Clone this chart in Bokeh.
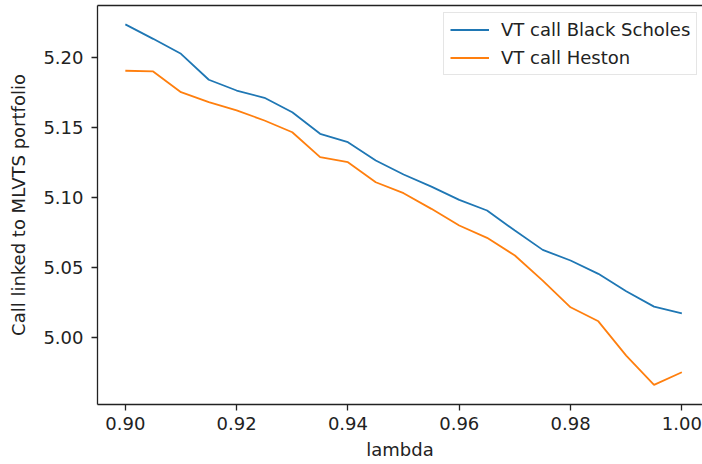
from bokeh.plotting import figure
from bokeh.models import LinearAxis, FixedTicker, NumeralTickFormatter, Range1d, Legend, LegendItem
from bokeh.embed import file_html
from bokeh.resources import INLINE

lam = [0.900, 0.905, 0.910, 0.915, 0.920, 0.925, 0.930, 0.935, 0.940, 0.945, 0.950,
       0.955, 0.960, 0.965, 0.970, 0.975, 0.980, 0.985, 0.990, 0.995, 1.000]
black_scholes = [5.2234, 5.2131, 5.2024, 5.1839, 5.1762, 5.1710, 5.1607, 5.1453, 5.1393, 5.1262, 5.1162,
                 5.1076, 5.0981, 5.0905, 5.0762, 5.0624, 5.0548, 5.0453, 5.0329, 5.0219, 5.0171]
heston = [5.1903, 5.1898, 5.1750, 5.1679, 5.1620, 5.1548, 5.1464, 5.1286, 5.1250, 5.1107, 5.1029,
          5.0917, 5.0798, 5.0710, 5.0584, 5.0405, 5.0214, 5.0114, 4.9869, 4.9660, 4.9750]
x_ticks = [0.90, 0.92, 0.94, 0.96, 0.98, 1.00]
y_ticks = [5.00, 5.05, 5.10, 5.15, 5.20]
series_names = ["VT call Black Scholes", "VT call Heston"]

FONT = "DejaVu Sans"
TXT = "#222222"
FS = "18px"

p = figure(width=702, height=464, output_backend="svg", toolbar_location=None,
           x_range=Range1d(0.895, 1.00371), y_range=Range1d(4.9520, 5.2369),
           min_border_left=97, min_border_right=0, min_border_top=5, min_border_bottom=60)
p.outline_line_color = None
p.xgrid.visible = False
p.ygrid.visible = False
p.background_fill_color = "white"
p.border_fill_color = "white"

r1 = p.line(lam, black_scholes, line_color="#1f77b4", line_width=1.8)
r2 = p.line(lam, heston, line_color="#ff7f0e", line_width=1.8)

for ax in (p.xaxis[0], p.yaxis[0]):
    ax.axis_line_color = "#222222"
    ax.axis_line_width = 1.3
    ax.major_tick_line_color = "#222222"
    ax.major_tick_line_width = 1.3
    ax.major_tick_out = 6
    ax.major_tick_in = 0
    ax.minor_tick_out = 0
    ax.minor_tick_in = 0
    ax.major_label_text_font = FONT
    ax.major_label_text_font_size = FS
    ax.major_label_text_color = TXT
    ax.axis_label_text_font = FONT
    ax.axis_label_text_font_size = FS
    ax.axis_label_text_font_style = "normal"
    ax.axis_label_text_color = TXT
    ax.formatter = NumeralTickFormatter(format="0.00")

p.xaxis[0].ticker = FixedTicker(ticks=x_ticks)
p.yaxis[0].ticker = FixedTicker(ticks=y_ticks)
p.xaxis[0].axis_label = "lambda"
p.yaxis[0].axis_label = "Call linked to MLVTS portfolio"
p.xaxis[0].major_label_standoff = 6
p.yaxis[0].major_label_standoff = 8
p.xaxis[0].axis_label_standoff = 6
p.yaxis[0].axis_label_standoff = 11

top = LinearAxis(ticker=FixedTicker(ticks=[]), major_label_text_font_size="0px",
                 major_tick_out=0, major_tick_in=0, minor_tick_out=0, minor_tick_in=0,
                 major_label_standoff=0, axis_line_color="#222222", axis_line_width=1.3)
p.add_layout(top, "above")

legend = Legend(items=[LegendItem(label=series_names[0], renderers=[r1]),
                       LegendItem(label=series_names[1], renderers=[r2])],
                location=(346, 329), margin=0, padding=6, spacing=7,
                glyph_width=39, glyph_height=21, label_height=21, label_standoff=12,
                label_text_font=FONT, label_text_font_size=FS, label_text_color=TXT,
                border_line_color="#cccccc", border_line_width=1,
                background_fill_color="white", background_fill_alpha=0.8)
p.add_layout(legend, "center")

open("out.html", "w").write(file_html(p, INLINE))
